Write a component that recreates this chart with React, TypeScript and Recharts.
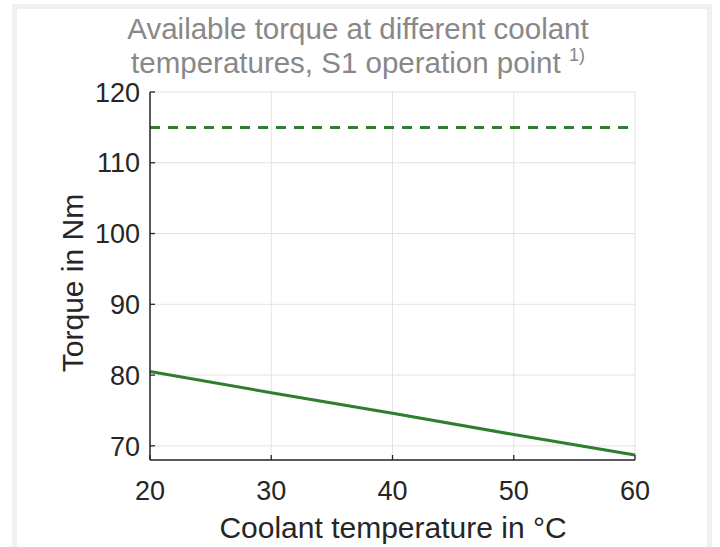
import React from 'react';
import { LineChart, Line, XAxis, YAxis, CartesianGrid } from 'recharts';

// coolant temperature in °C
const temperatures = [20, 30, 40, 50, 60];
// S1 torque (solid) and peak torque (dashed), Nm
const s1Torque = [80.5, 77.5, 74.6, 71.6, 68.7];
const peakTorque = [115, 115, 115, 115, 115];
const xTicks = [20, 30, 40, 50, 60];
const yTicks = [70, 80, 90, 100, 110, 120];

const data = temperatures.map((t, i) => ({ t, s1: s1Torque[i], peak: peakTorque[i] }));

const INK = '#262626';
const GREEN = '#2f7d2f';
const FONT = '"Liberation Sans", Arial, Helvetica, sans-serif';

const LeftTick = (props: any) => {
  const { x, y, payload } = props;
  return (
    <g>
      <line x1={x} x2={x + 5} y1={y} y2={y} stroke={INK} strokeWidth={1.3} />
      <text x={x - 10} y={y} dy="0.36em" textAnchor="end" fontSize={27} fill={INK} fontFamily={FONT}>
        {payload.value}
      </text>
    </g>
  );
};

const BottomTick = (props: any) => {
  const { x, y, payload } = props;
  return (
    <g>
      <line x1={x} x2={x} y1={y} y2={y - 5} stroke={INK} strokeWidth={1.3} />
      <text x={x} y={y + 40} textAnchor="middle" fontSize={27} fill={INK} fontFamily={FONT}>
        {payload.value}
      </text>
    </g>
  );
};

const RightTick = (props: any) => {
  const { x, y } = props;
  return <line x1={x} x2={x - 5} y1={y} y2={y} stroke={INK} strokeWidth={1.3} />;
};

const TopTick = (props: any) => {
  const { x, y } = props;
  return <line x1={x} x2={x} y1={y} y2={y + 5} stroke={INK} strokeWidth={1.3} />;
};

export default function App() {
  return (
    <div style={{ position: 'fixed', left: 0, top: 0, width: 720, height: 547, background: '#fff', overflow: 'hidden' }}>
      <div
        style={{
          position: 'absolute',
          left: 12,
          top: 4,
          width: 700,
          height: 600,
          border: '5px solid #f0f0f0',
          boxSizing: 'border-box',
        }}
      />
      <div style={{ position: 'absolute', left: 0, top: 0 }}>
        <LineChart width={720} height={547} data={data} margin={{ top: 92, right: 85, bottom: 37, left: 90 }}>
          <CartesianGrid stroke="#e3e3e3" strokeWidth={1} />
          <XAxis
            dataKey="t"
            type="number"
            domain={[20, 60]}
            ticks={xTicks}
            height={50}
            tickSize={0}
            tickMargin={0}
            tickLine={false}
            tick={<BottomTick />}
            axisLine={{ stroke: INK, strokeWidth: 1.5 }}
          />
          <XAxis
            xAxisId="top"
            orientation="top"
            dataKey="t"
            type="number"
            domain={[20, 60]}
            ticks={xTicks}
            height={0}
            tickSize={0}
            tickMargin={0}
            tickLine={false}
            tick={<TopTick />}
            axisLine={{ stroke: INK, strokeWidth: 1.5 }}
          />
          <YAxis
            type="number"
            domain={[68, 120]}
            ticks={yTicks}
            width={60}
            tickSize={0}
            tickMargin={0}
            tickLine={false}
            tick={<LeftTick />}
            axisLine={{ stroke: INK, strokeWidth: 1.5 }}
          />
          <YAxis
            yAxisId="right"
            orientation="right"
            type="number"
            domain={[68, 120]}
            ticks={yTicks}
            width={0}
            tickSize={0}
            tickMargin={0}
            tickLine={false}
            tick={<RightTick />}
            axisLine={{ stroke: INK, strokeWidth: 1.5 }}
          />
          <Line dataKey="peak" stroke={GREEN} strokeWidth={3} strokeDasharray="10 8" dot={false} isAnimationActive={false} />
          <Line dataKey="s1" stroke={GREEN} strokeWidth={3} dot={false} isAnimationActive={false} />
        </LineChart>
      </div>
      <svg width={720} height={547} style={{ position: 'absolute', left: 0, top: 0, pointerEvents: 'none' }}>
        <g fontFamily={FONT}>
          <text x={358} y={39} textAnchor="middle" fontSize={29.5} fill="#888888">
            Available torque at different coolant
          </text>
          <text x={358} y={73} textAnchor="middle" fontSize={29.5} fill="#888888">
            temperatures, S1 operation point{' '}
            <tspan fontSize={18} dy={-12}>
              1)
            </tspan>
          </text>
          <text x={393} y={538} textAnchor="middle" fontSize={30} fill={INK}>
            Coolant temperature in °C
          </text>
          <text x={83} y={283} textAnchor="middle" fontSize={30} fill={INK} transform="rotate(-90, 83, 283)">
            Torque in Nm
          </text>
        </g>
      </svg>
    </div>
  );
}
